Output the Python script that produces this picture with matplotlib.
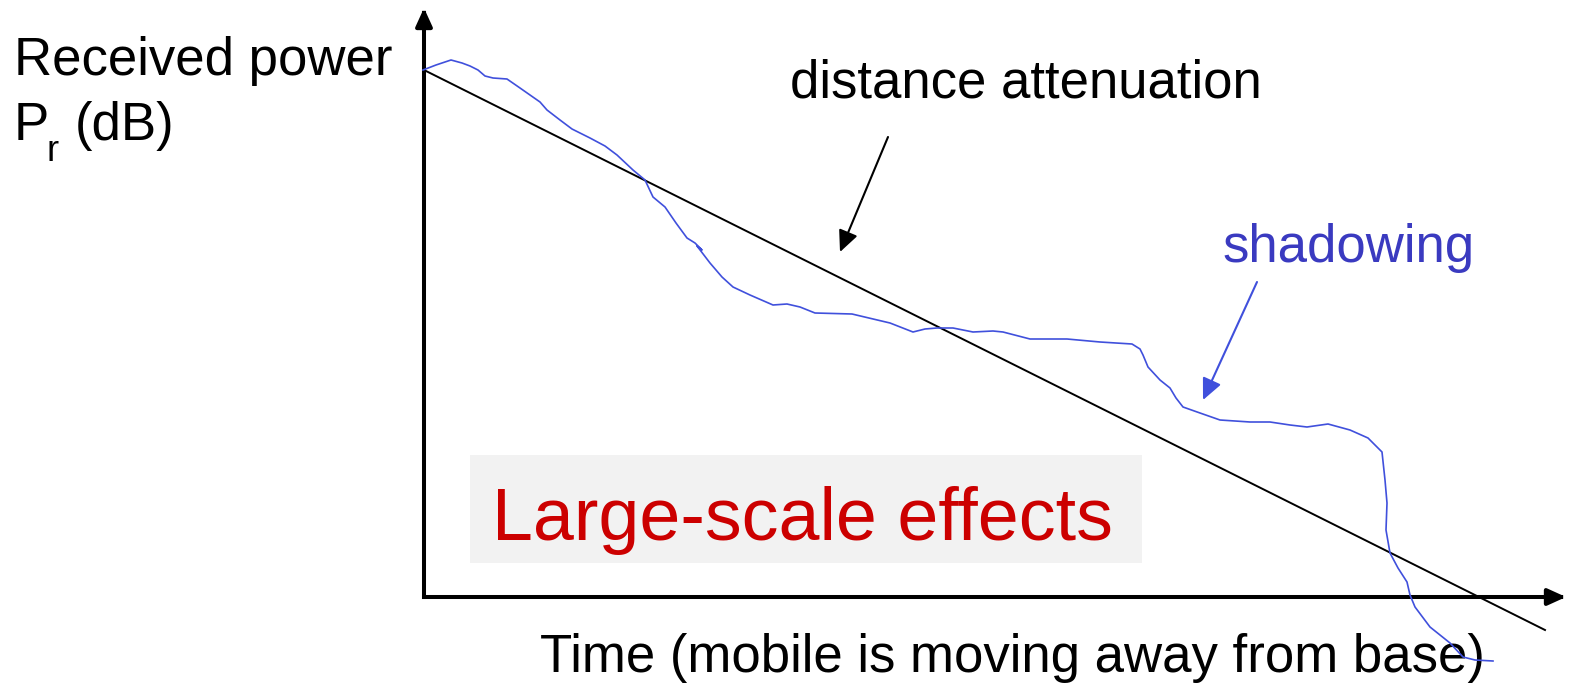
import matplotlib.pyplot as plt
from matplotlib.patches import Rectangle

plt.rcParams['font.family'] = ['Liberation Sans', 'DejaVu Sans']

# shadowing curve: time (px from origin) vs received power (px above time axis)
t_shadow = [-1, 12, 27, 38, 46, 54, 61, 69, 83, 96,
            116, 123, 136, 148, 166, 181, 193, 209, 221, 229,
            241, 252, 263, 271, 278, 273, 286, 298, 309, 326,
            349, 363, 376, 391, 428, 466, 489, 501, 513, 529,
            549, 569, 579, 606, 643, 676, 708, 716, 719, 724,
            736, 746, 752, 759, 776, 796, 826, 846, 866, 883,
            904, 926, 944, 958, 961, 963, 962, 966, 974, 983,
            986, 991, 1006, 1026, 1039, 1051, 1069]
p_shadow = [527, 532, 537, 534, 531, 527, 521, 519, 518, 509,
            495, 487, 477, 468, 459, 451, 442, 427, 417, 400,
            390, 374, 359, 354, 347, 351, 334, 320, 310, 302,
            292, 293, 290, 284, 283, 274, 265, 268, 269, 269,
            265, 266, 265, 258, 258, 255, 253, 248, 242, 230,
            217, 209, 199, 190, 184, 177, 175, 175, 172, 170,
            173, 167, 159, 145, 117, 94, 67, 44, 29, 15,
            2, -10, -30, -46, -60, -63, -64]

# distance attenuation (straight line)
t_dist = [0, 1121]
p_dist = [527, -33]

BLUE = '#4050DC'
RED = '#CC0000'

fig = plt.figure(figsize=(15.77, 6.83), dpi=100)
ax = fig.add_axes([0, 0, 1, 1])
ax.set_xlim(-424, 1153)
ax.set_ylim(-86, 597)
ax.axis('off')

# grey box behind the label
ax.add_patch(Rectangle((46, 34), 672, 108, facecolor='#f2f2f2', edgecolor='none', zorder=0))

# axes arrows
axis_arrow = dict(arrowstyle='-|>,head_length=1.1,head_width=0.5', color='black',
                  lw=2.9, shrinkA=0, shrinkB=0, mutation_scale=10, capstyle='projecting')
ax.annotate('', xy=(0, 589), xytext=(0, 0), arrowprops=axis_arrow)
ax.annotate('', xy=(1142, 0), xytext=(0, 0), arrowprops=axis_arrow)

ax.plot(t_dist, p_dist, color='black', lw=1.4, zorder=3)
ax.plot(t_shadow, p_shadow, color=BLUE, lw=1.2, zorder=4)

# pointer arrows
ax.annotate('', xy=(416, 345), xytext=(464, 460),
            arrowprops=dict(arrowstyle='-|>,head_length=1.3,head_width=0.6', color='black',
                            lw=1.5, shrinkA=0, shrinkB=0, mutation_scale=10))
ax.annotate('', xy=(779, 197), xytext=(833, 315),
            arrowprops=dict(arrowstyle='-|>,head_length=1.3,head_width=0.6', color=BLUE,
                            lw=1.5, shrinkA=0, shrinkB=0, mutation_scale=10))

fs = 38
ax.text(-410, 522, 'Received power', fontsize=fs, va='baseline', ha='left')
ax.text(-410, 457, 'P', fontsize=fs, va='baseline', ha='left')
ax.text(-377, 436, 'r', fontsize=26, va='baseline', ha='left')
ax.text(-349, 457, '(dB)', fontsize=fs, va='baseline', ha='left')
ax.text(366, 499, 'distance attenuation', fontsize=fs, va='baseline', ha='left')
ax.text(798, 335, 'shadowing', fontsize=fs, va='baseline', ha='left', color='#3a3ac0')
ax.text(68, 57, 'Large-scale effects', fontsize=53, va='baseline', ha='left', color=RED)
ax.text(116, -75, 'Time (mobile is moving away from base)', fontsize=fs, va='baseline', ha='left')

fig.savefig('out.png', dpi=100)
